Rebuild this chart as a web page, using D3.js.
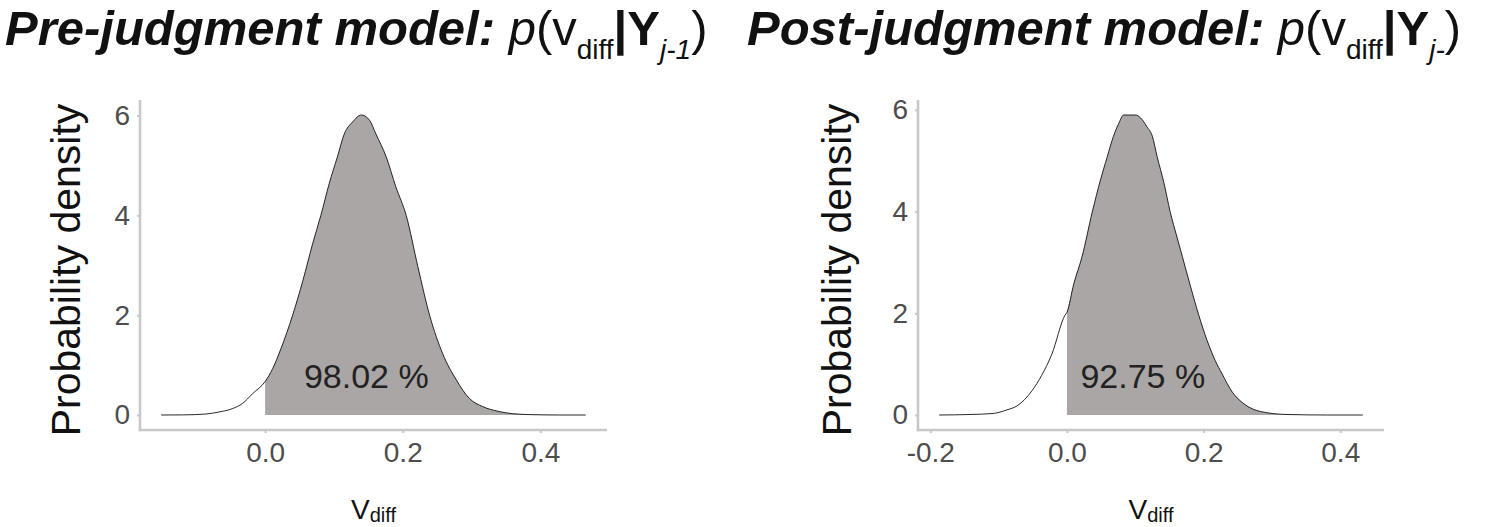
<!DOCTYPE html>
<html>
<head>
<meta charset="utf-8">
<script src="https://cdn.jsdelivr.net/npm/d3@7"></script>
<style>
  body { margin: 0; background: #fff; }
  text { font-family: "Liberation Sans", Arial, Helvetica, sans-serif; white-space: pre; }
</style>
</head>
<body>
<svg id="chart" width="1485" height="527"></svg>
<script>
// Posterior density of v_diff, pre-judgment model
const preV = [-0.151, -0.120, -0.086, -0.067, -0.047, -0.033, -0.018, 0.000, 0.011, 0.023, 0.040, 0.055, 0.069, 0.081, 0.093, 0.105, 0.115, 0.127, 0.140, 0.152, 0.161, 0.176, 0.190, 0.205, 0.222, 0.239, 0.258, 0.278, 0.297, 0.316, 0.340, 0.379, 0.428, 0.466];
const preDensity = [0.00, 0.002, 0.02, 0.06, 0.13, 0.23, 0.43, 0.67, 0.93, 1.33, 2.00, 2.70, 3.43, 4.00, 4.63, 5.17, 5.63, 5.87, 6.01, 5.90, 5.63, 5.17, 4.57, 4.00, 2.97, 2.00, 1.23, 0.70, 0.33, 0.17, 0.07, 0.01, 0.00, 0.00];

// Posterior density of v_diff, post-judgment model
const postV = [-0.187, -0.142, -0.108, -0.088, -0.073, -0.051, -0.037, -0.022, -0.003, 0.000, 0.010, 0.022, 0.037, 0.049, 0.059, 0.068, 0.076, 0.083, 0.100, 0.108, 0.117, 0.125, 0.132, 0.142, 0.151, 0.161, 0.169, 0.181, 0.193, 0.205, 0.217, 0.227, 0.242, 0.259, 0.283, 0.322, 0.381, 0.433];
const postDensity = [0.00, 0.01, 0.03, 0.10, 0.18, 0.48, 0.78, 1.20, 1.96, 2.02, 2.58, 3.11, 3.99, 4.62, 5.08, 5.48, 5.74, 5.90, 5.90, 5.84, 5.67, 5.48, 5.08, 4.56, 4.00, 3.50, 3.11, 2.52, 1.96, 1.47, 1.07, 0.81, 0.45, 0.22, 0.07, 0.01, 0.00, 0.00];

// Axis ticks
const preXTicks = [0.0, 0.2, 0.4];
const postXTicks = [-0.2, 0.0, 0.2, 0.4];
const densityTicks = [0, 2, 4, 6];

// Shaded mass above zero and its annotation
const shadeFrom = [0, 0];
const massLabels = ["98.02 %", "92.75 %"];
const massLabelV = [0.147, 0.111];
const massLabelDensity = [0.54, 0.54];

// Panel titles
const titleHeads = ["Pre-judgment model:", "Post-judgment model:"];
const titleSubs = ["j-1", "j-"];

const svg = d3.select("#chart");

const panels = [
  { v: preV, d: preDensity, ticks: preXTicks, box: { l: 140, r: 607, t: 100, b: 430 }, titleX: 5, yLabelX: 80 },
  { v: postV, d: postDensity, ticks: postXTicks, box: { l: 918, r: 1384, t: 100, b: 430 }, titleX: 747, yLabelX: 851 }
];

function expand(ext, f) {
  const pad = (ext[1] - ext[0]) * f;
  return [ext[0] - pad, ext[1] + pad];
}

panels.forEach((p, i) => {
  const { l, r, t, b } = p.box;
  const x = d3.scaleLinear().domain(expand(d3.extent(p.v), 0.05)).range([l, r]);
  const y = d3.scaleLinear().domain(expand([0, d3.max(p.d)], 0.05)).range([b, t]);

  const pts = p.v.map((v, k) => [v, p.d[k]]);
  const shaded = pts.filter(q => q[0] >= shadeFrom[i]);

  // shaded area
  svg.append("path")
    .datum(shaded)
    .attr("fill", "#aaa6a5")
    .attr("d", d3.area()
      .x(q => x(q[0]))
      .y0(y(0))
      .y1(q => y(q[1]))
      .curve(d3.curveMonotoneX));

  // density outline
  svg.append("path")
    .datum(pts)
    .attr("fill", "none")
    .attr("stroke", "#111")
    .attr("stroke-width", 0.9)
    .attr("d", d3.line()
      .x(q => x(q[0]))
      .y(q => y(q[1]))
      .curve(d3.curveMonotoneX));

  // percentage annotation
  svg.append("text")
    .attr("x", x(massLabelV[i]))
    .attr("y", y(massLabelDensity[i]))
    .attr("text-anchor", "middle")
    .attr("font-size", 34)
    .attr("fill", "#222")
    .text(massLabels[i]);

  // axes
  const xAxis = svg.append("g")
    .attr("transform", `translate(0,${b})`)
    .call(d3.axisBottom(x).tickValues(p.ticks).tickFormat(d => d.toFixed(1)).tickSize(3).tickSizeOuter(0).tickPadding(9));
  const yAxis = svg.append("g")
    .attr("transform", `translate(${l},0)`)
    .call(d3.axisLeft(y).tickValues(densityTicks).tickFormat(d3.format("d")).tickSize(3).tickSizeOuter(0).tickPadding(7));

  [xAxis, yAxis].forEach(ax => {
    ax.select(".domain").attr("stroke", "#c8c8c8").attr("stroke-width", 2.6);
    ax.selectAll(".tick line").attr("stroke", "#c8c8c8").attr("stroke-width", 2);
    ax.selectAll(".tick text")
      .attr("font-size", 28)
      .attr("fill", "#4d4d4d")
      .attr("font-family", "Liberation Sans, Arial, sans-serif");
  });
  xAxis.select(".domain").attr("d", `M${l - 1.3},0H${r}`);
  yAxis.select(".domain").attr("d", `M0,${t}V${b + 1.3}`);

  // x axis title: V with subscript "diff"
  const xt = svg.append("text")
    .attr("x", (l + r) / 2)
    .attr("y", 519)
    .attr("text-anchor", "middle")
    .attr("fill", "#111");
  xt.append("tspan").attr("font-size", 28).text("V");
  xt.append("tspan").attr("font-size", 20).attr("dy", 3).text("diff");

  // y axis title
  svg.append("text")
    .attr("transform", `translate(${p.yLabelX},${(t + b) / 2 + 5}) rotate(-90)`)
    .attr("text-anchor", "middle")
    .attr("font-size", 41)
    .attr("fill", "#111")
    .text("Probability density");

  // panel title: bold italic heading followed by p(v_diff | Y_j)
  const tt = svg.append("text")
    .attr("x", p.titleX)
    .attr("y", 45)
    .attr("font-size", 49)
    .attr("fill", "#111");
  tt.append("tspan").attr("font-weight", "bold").attr("font-style", "italic").text(titleHeads[i] + " ");
  tt.append("tspan").attr("font-style", "italic").text("p");
  tt.append("tspan").text("(v");
  tt.append("tspan").attr("font-size", 28).attr("dy", 14).text("diff");
  tt.append("tspan").attr("dy", -14).attr("font-weight", "bold").text("|");
  tt.append("tspan").attr("font-weight", "bold").text("Y");
  tt.append("tspan").attr("font-size", 28).attr("font-style", "italic").attr("dy", 14).text(titleSubs[i]);
  tt.append("tspan").attr("dy", -14).text(")");
});
</script>
</body>
</html>
